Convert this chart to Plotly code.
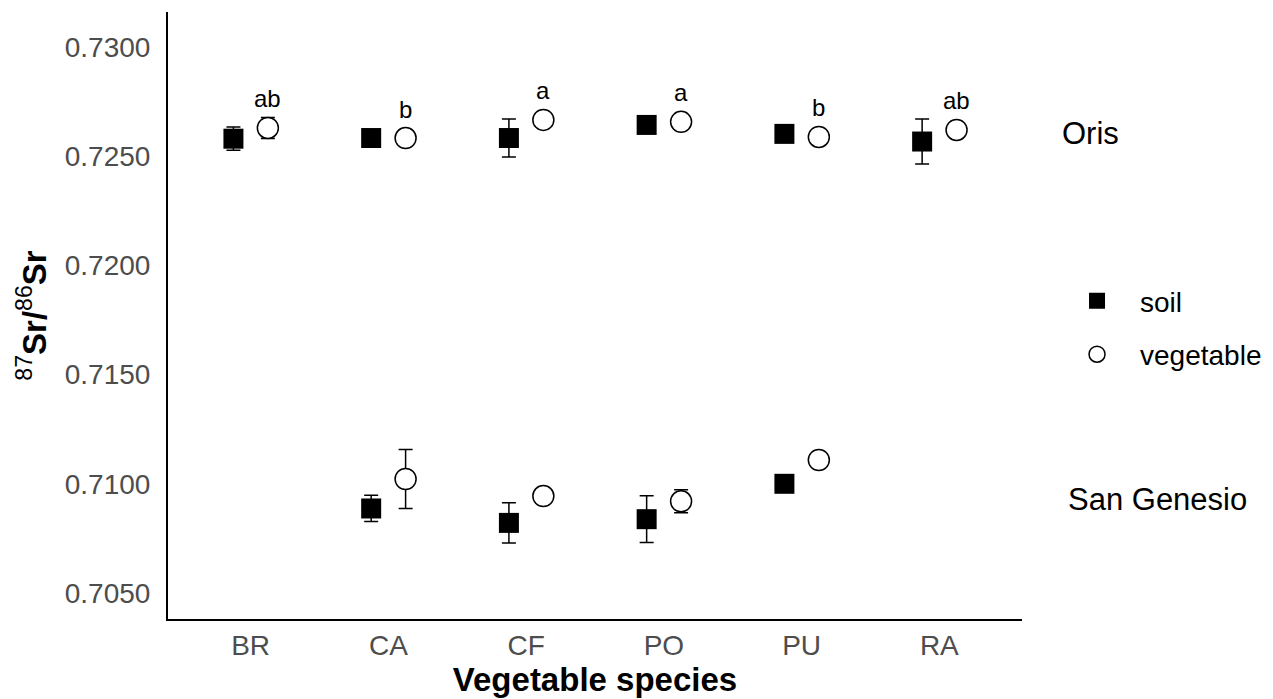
import plotly.graph_objects as go

categories = ["BR", "CA", "CF", "PO", "PU", "RA"]

# Oris site
oris_soil = [0.72580, 0.72583, 0.72583, 0.72643, 0.72602, 0.72567]
oris_soil_err = [0.00053, 0.00020, 0.00087, 0.00020, 0.00020, 0.00103]
oris_veg = [0.72629, 0.72583, 0.72666, 0.72657, 0.72588, 0.72620]
oris_veg_err = [0.00048, 0.00020, 0.00020, 0.00020, 0.00020, 0.00020]
letters = ["ab", "b", "a", "a", "b", "ab"]

# San Genesio site (None = not sampled)
sg_soil = [None, 0.70887, 0.70821, 0.70838, 0.71000, None]
sg_soil_err = [None, 0.00060, 0.00092, 0.00107, 0.00020, None]
sg_veg = [None, 0.71022, 0.70944, 0.70920, 0.71109, None]
sg_veg_err = [None, 0.00135, 0.00020, 0.00053, 0.00020, None]

site_labels = ["Oris", "San Genesio"]
site_label_y = [0.72606, 0.70926]

y_ticks = [0.7050, 0.7100, 0.7150, 0.7200, 0.7250, 0.7300]

dodge = 0.125
FONT = "Liberation Sans, Arial, sans-serif"

idx = list(range(len(categories)))
x_soil = [i - dodge for i in idx]
x_veg = [i + dodge for i in idx]

fig = go.Figure()

soil_marker = dict(symbol="square", size=20, color="black", line=dict(color="black", width=0))
veg_marker = dict(symbol="circle", size=21, color="white", line=dict(color="black", width=1.5))
err_style = dict(type="data", color="black", thickness=1.5, width=7, visible=True)

for vals, errs, show in [(oris_soil, oris_soil_err, True), (sg_soil, sg_soil_err, False)]:
    fig.add_trace(go.Scatter(
        x=x_soil, y=vals, mode="markers", name="soil",
        legendgroup="soil", showlegend=show,
        marker=soil_marker,
        error_y=dict(array=errs, **err_style),
    ))

for vals, errs, show in [(oris_veg, oris_veg_err, True), (sg_veg, sg_veg_err, False)]:
    fig.add_trace(go.Scatter(
        x=x_veg, y=vals, mode="markers", name="vegetable",
        legendgroup="vegetable", showlegend=show,
        marker=veg_marker,
        error_y=dict(array=errs, **err_style),
    ))

for xv, yv, t in zip(x_veg, oris_veg, letters):
    fig.add_annotation(x=xv, y=yv, text=t, showarrow=False, yshift=29,
                       font=dict(family=FONT, size=24, color="black"))

for name, yv, xp in zip(site_labels, site_label_y, [1.044, 1.052]):
    fig.add_annotation(x=xp, xref="paper", y=yv, yref="y", text=name,
                       showarrow=False, xanchor="left",
                       font=dict(family=FONT, size=31, color="black"))

fig.update_layout(
    width=1273, height=699,
    margin=dict(l=168, r=251, t=12, b=80, autoexpand=False),
    plot_bgcolor="white", paper_bgcolor="white",
    font=dict(family=FONT, color="black"),
    showlegend=True,
    legend=dict(x=1.0375, xanchor="left", y=0.48, yanchor="middle",
                font=dict(family=FONT, size=28, color="black"),
                tracegroupgap=14, traceorder="grouped", itemwidth=76,
                bgcolor="rgba(0,0,0,0)"),
)

fig.update_xaxes(
    range=[-0.6, 5.6], tickmode="array", tickvals=idx, ticktext=categories,
    showgrid=False, zeroline=False, showline=True, linecolor="black", linewidth=2,
    ticks="", tickfont=dict(family=FONT, size=28, color="#4D4D4D"),
    title=dict(text="<b>Vegetable species</b>", standoff=2,
               font=dict(family=FONT, size=33, color="black")),
    automargin=False,
)
fig.update_yaxes(
    range=[0.70381, 0.73160], tickmode="array", tickvals=y_ticks,
    tickformat=".4f", showgrid=False, zeroline=False,
    showline=True, linecolor="black", linewidth=2,
    ticks="", ticklabelstandoff=10,
    tickfont=dict(family=FONT, size=28, color="#4D4D4D"),
    title=dict(text="<sup>87</sup><b>Sr/</b><sup>86</sup><b>Sr</b>", standoff=8,
               font=dict(family=FONT, size=33, color="black")),
    automargin=False,
)

fig.write_html("out.html", config={"displayModeBar": False},
               post_script="document.body.style.margin='0px';")
